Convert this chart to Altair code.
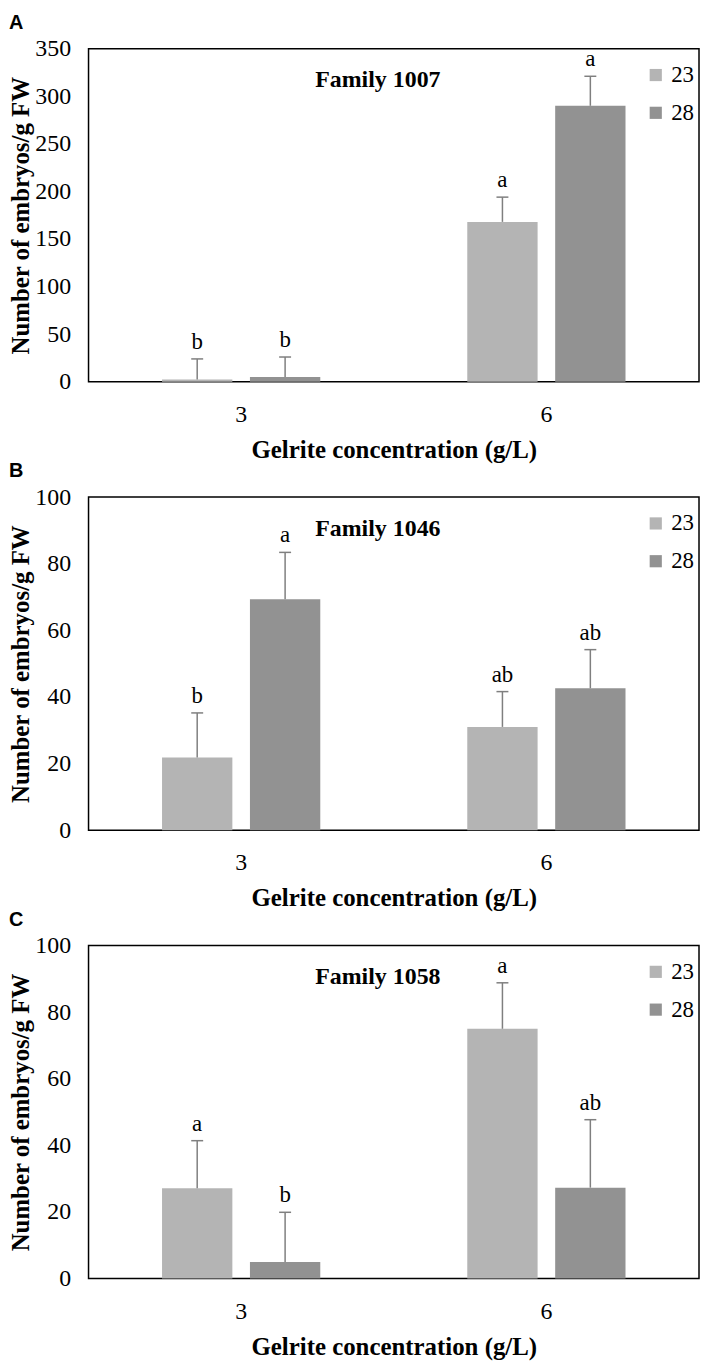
import altair as alt
import pandas as pd

# ---- data ----
concentrations = ["3", "3", "6", "6"]
temperatures = ["23", "28", "23", "28"]
families = ["Family 1007", "Family 1046", "Family 1058"]
panel_letters = ["A", "B", "C"]

means_1007 = [2.5, 5.0, 168, 290]
se_1007 = [21.5, 21.0, 26, 31]
letters_1007 = ["b", "b", "a", "a"]

means_1046 = [21.8, 69.3, 31.0, 42.6]
se_1046 = [13.4, 14.1, 10.6, 11.6]
letters_1046 = ["b", "a", "ab", "ab"]

means_1058 = [27.1, 5.0, 75.0, 27.3]
se_1058 = [14.3, 14.9, 13.8, 20.4]
letters_1058 = ["a", "b", "a", "ab"]

y_max = [350, 100, 100]
y_step = [50, 20, 20]

temp_domain = ["23", "28"]
temp_colors = ["#b4b4b4", "#929292"]

SERIF = "Liberation Serif, Times New Roman, serif"
SANS = "Liberation Sans, Arial, sans-serif"
ERR_COLOR = "#7f7f7f"
Y_TITLE = "Number of embryos/g FW"
X_TITLE = "Gelrite concentration (g/L)"


def panel(idx, means, ses, letters):
    df = pd.DataFrame({
        "conc": concentrations,
        "temp": temperatures,
        "mean": means,
        "upper": [m + s for m, s in zip(means, ses)],
        "letter": letters,
    })
    base = alt.Chart(df)
    x = alt.X("conc:N", title=X_TITLE,
              scale=alt.Scale(paddingInner=0, paddingOuter=0),
              axis=alt.Axis(labelAngle=0, labelPadding=21, titlePadding=11,
                            labelFont=SERIF, labelFontSize=24,
                            labelColor="black", titleFont=SERIF,
                            titleFontSize=25, titleFontWeight="bold",
                            titleColor="black", domain=False, ticks=False,
                            grid=False))
    xo = alt.XOffset("temp:N", sort=temp_domain,
                     scale=alt.Scale(paddingInner=0.2, paddingOuter=0.836))
    yscale = alt.Scale(domain=[0, y_max[idx]], nice=False)
    yaxis = alt.Axis(values=list(range(0, y_max[idx] + 1, y_step[idx])),
                     labelPadding=18, titlePadding=1,
                     labelFont=SERIF, labelFontSize=24, labelColor="black",
                     titleFont=SERIF, titleFontSize=25,
                     titleFontWeight="bold", titleColor="black",
                     domain=False, ticks=False, grid=False)
    color = alt.Color(
        "temp:N",
        scale=alt.Scale(domain=temp_domain, range=temp_colors),
        legend=alt.Legend(
            title=None, orient="none", legendX=559, legendY=15,
            symbolType="square", symbolSize=150, symbolStrokeWidth=0,
            symbolOpacity=1, labelFont=SERIF, labelFontSize=23,
            labelColor="black", rowPadding=14, labelOffset=4,
        ),
    )
    bars = base.mark_bar().encode(
        x=x, xOffset=xo,
        y=alt.Y("mean:Q", title=Y_TITLE, scale=yscale, axis=yaxis),
        color=color,
    )
    err = base.mark_rule(color=ERR_COLOR, strokeWidth=1.5).encode(
        x=x, xOffset=xo,
        y=alt.Y("mean:Q", title=Y_TITLE, scale=yscale, axis=yaxis),
        y2="upper:Q",
    )
    cap = base.mark_tick(color=ERR_COLOR, size=12, thickness=1.5,
                         orient="horizontal", opacity=1).encode(
        x=x, xOffset=xo,
        y=alt.Y("upper:Q", title=Y_TITLE, scale=yscale, axis=yaxis),
    )
    txt = base.mark_text(font=SERIF, fontSize=23, baseline="bottom",
                         dy=-5, color="black").encode(
        x=x, xOffset=xo,
        y=alt.Y("upper:Q", title=Y_TITLE, scale=yscale, axis=yaxis),
        text="letter:N",
    )
    fam = alt.Chart(pd.DataFrame({"family": [families[idx]]})).mark_text(
        font=SERIF, fontSize=24, fontWeight="bold", baseline="middle",
        color="black",
    ).encode(x=alt.value(291), y=alt.value(32), text="family:N")

    return alt.layer(bars, err, cap, txt, fam).properties(
        width=614, height=335,
        title=alt.TitleParams(
            panel_letters[idx], anchor="start", frame="bounds",
            font=SANS, fontSize=20, fontWeight="bold",
            color="black", offset=4,
        ),
    )


chart = alt.vconcat(
    panel(0, means_1007, se_1007, letters_1007),
    panel(1, means_1046, se_1046, letters_1046),
    panel(2, means_1058, se_1058, letters_1058),
    spacing=116,
    bounds="flush",
).resolve_scale(
    x="independent", y="independent", color="independent"
).resolve_legend(
    color="independent"
).properties(
    padding={"left": 0, "top": 0, "right": 0, "bottom": 0}
).configure_view(
    stroke="black", strokeWidth=1.5
).configure_axis(
    domain=False, ticks=False, grid=False,
    labelFont=SERIF, labelFontSize=24, labelColor="black",
    titleFont=SERIF, titleFontSize=25, titleFontWeight="bold",
    titleColor="black",
).configure_bar(
    stroke=None
)

chart.save("out.html", embed_options={"renderer": "svg", "actions": False})
